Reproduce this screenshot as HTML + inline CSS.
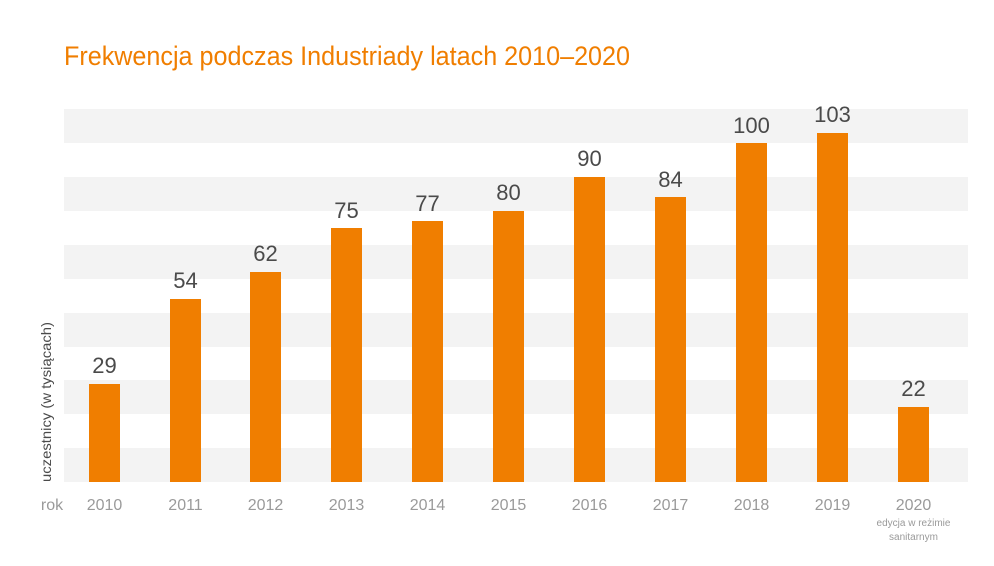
<!DOCTYPE html>
<html><head><meta charset="utf-8"><style>
html,body{margin:0;padding:0;background:#fff;}
svg{display:block;font-family:"Liberation Sans","DejaVu Sans",sans-serif;}
</style></head><body>
<svg width="994" height="566" viewBox="0 0 994 566">
<text x="64" y="65" font-size="27" fill="#f07e00" textLength="566" lengthAdjust="spacingAndGlyphs">Frekwencja podczas Industriady latach 2010–2020</text>
<g fill="#f3f3f3">
<rect x="64" y="109" width="904" height="34"/>
<rect x="64" y="177" width="904" height="34"/>
<rect x="64" y="245" width="904" height="34"/>
<rect x="64" y="313" width="904" height="34"/>
<rect x="64" y="380" width="904" height="34"/>
<rect x="64" y="448" width="904" height="34"/>
</g>
<g fill="#f07e00">
<rect x="89" y="384" width="31" height="98"/>
<rect x="170" y="299" width="31" height="183"/>
<rect x="250" y="272" width="31" height="210"/>
<rect x="331" y="228" width="31" height="254"/>
<rect x="412" y="221" width="31" height="261"/>
<rect x="493" y="211" width="31" height="271"/>
<rect x="574" y="177" width="31" height="305"/>
<rect x="655" y="197" width="31" height="285"/>
<rect x="736" y="143" width="31" height="339"/>
<rect x="817" y="133" width="31" height="349"/>
<rect x="898" y="407" width="31" height="75"/>
</g>
<g font-size="22" fill="#4a4a4a" text-anchor="middle">
<text x="104.5" y="373">29</text>
<text x="185.5" y="288">54</text>
<text x="265.5" y="261">62</text>
<text x="346.5" y="218">75</text>
<text x="427.5" y="211">77</text>
<text x="508.5" y="200">80</text>
<text x="589.5" y="166">90</text>
<text x="670.5" y="187">84</text>
<text x="751.5" y="133">100</text>
<text x="832.5" y="122">103</text>
<text x="913.5" y="396">22</text>
</g>
<g font-size="16" fill="#9a9a9a" text-anchor="middle">
<text x="52" y="510">rok</text>
<text x="104.5" y="510">2010</text>
<text x="185.5" y="510">2011</text>
<text x="265.5" y="510">2012</text>
<text x="346.5" y="510">2013</text>
<text x="427.5" y="510">2014</text>
<text x="508.5" y="510">2015</text>
<text x="589.5" y="510">2016</text>
<text x="670.5" y="510">2017</text>
<text x="751.5" y="510">2018</text>
<text x="832.5" y="510">2019</text>
<text x="913.5" y="510">2020</text>
</g>
<g font-size="10" fill="#9a9a9a" text-anchor="middle">
<text x="913.5" y="526">edycja w reżimie</text>
<text x="913.5" y="540">sanitarnym</text>
</g>
<text transform="translate(51,482) rotate(-90)" font-size="14" fill="#4a4a4a" textLength="160" lengthAdjust="spacingAndGlyphs">uczestnicy (w tysiącach)</text>
</svg>
</body></html>
